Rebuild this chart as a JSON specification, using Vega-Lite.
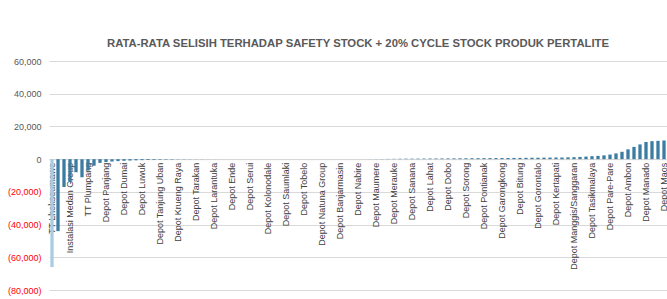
{
  "$schema": "https://vega.github.io/schema/vega-lite/v6.json",
  "autosize": {"type": "none"},
  "padding": {"left": 49, "top": 61, "right": 0, "bottom": 9},
  "width": 618,
  "height": 229,
  "title": {
    "text": "RATA-RATA SELISIH TERHADAP SAFETY STOCK + 20% CYCLE STOCK PRODUK PERTALITE",
    "font": "Liberation Sans",
    "fontSize": 11.3,
    "fontWeight": "bold",
    "color": "#595959",
    "anchor": "middle",
    "baseline": "alphabetic",
    "offset": -1
  },
  "config": {"view": {"stroke": null}},
  "data": {
    "values": [
      {"depot": "TT Lhokseumawe", "selisih": -66000},
      {"depot": "Depot Kupang", "selisih": -44000},
      {"depot": "Depot Bima", "selisih": -17000},
      {"depot": "Instalasi Medan Group", "selisih": -14000},
      {"depot": "Depot Badas", "selisih": -8000},
      {"depot": "Depot Reo", "selisih": -11000},
      {"depot": "TT Plumpang", "selisih": -7000},
      {"depot": "Depot Waingapu", "selisih": -4000},
      {"depot": "Depot Atapupu", "selisih": -2300},
      {"depot": "Depot Panjang", "selisih": -1800},
      {"depot": "Depot Kalabahi", "selisih": -1500},
      {"depot": "Depot Sampit", "selisih": -1200},
      {"depot": "Depot Dumai", "selisih": -1000},
      {"depot": "Depot Pulang Pisau", "selisih": -850},
      {"depot": "Depot Kotabaru", "selisih": -700},
      {"depot": "Depot Luwuk", "selisih": -600},
      {"depot": "Depot Balikpapan", "selisih": -500},
      {"depot": "Depot Samarinda", "selisih": -420},
      {"depot": "Depot Tanjung Uban", "selisih": -350},
      {"depot": "Depot Tanjung Selor", "selisih": -300},
      {"depot": "Depot Sanggau", "selisih": -250},
      {"depot": "Depot Krueng Raya", "selisih": -200},
      {"depot": "Depot Putussibau", "selisih": -150},
      {"depot": "Depot Siantar", "selisih": -100},
      {"depot": "Depot Tarakan", "selisih": -80},
      {"depot": "Depot Sibolga", "selisih": -60},
      {"depot": "Depot Kisaran", "selisih": -40},
      {"depot": "Depot Larantuka", "selisih": -30},
      {"depot": "Depot Meulaboh", "selisih": -20},
      {"depot": "Depot Sabang", "selisih": -10},
      {"depot": "Depot Ende", "selisih": -8},
      {"depot": "Depot Jambi", "selisih": -5},
      {"depot": "Depot Bengkulu", "selisih": -3},
      {"depot": "Depot Serui", "selisih": 0},
      {"depot": "Depot Lubuk Linggau", "selisih": 0},
      {"depot": "Depot Baturaja", "selisih": 0},
      {"depot": "Depot Kolonodale", "selisih": 0},
      {"depot": "Depot Pangkal Balam", "selisih": 0},
      {"depot": "Depot Tanjung Pandan", "selisih": 0},
      {"depot": "Depot Saumlaki", "selisih": 0},
      {"depot": "Depot Tembilahan", "selisih": 0},
      {"depot": "Depot Siak", "selisih": 0},
      {"depot": "Depot Tobelo", "selisih": 0},
      {"depot": "Depot Teluk Kabung", "selisih": 0},
      {"depot": "Depot Padang", "selisih": 0},
      {"depot": "Depot Natuna Group", "selisih": 0},
      {"depot": "Depot Rewulu", "selisih": 0},
      {"depot": "Depot Boyolali", "selisih": 0},
      {"depot": "Depot Banjarmasin", "selisih": 3},
      {"depot": "Depot Cilacap", "selisih": 5},
      {"depot": "Depot Lomanis", "selisih": 8},
      {"depot": "Depot Nabire", "selisih": 10},
      {"depot": "Depot Ujung Berung", "selisih": 20},
      {"depot": "Depot Padalarang", "selisih": 40},
      {"depot": "Depot Maumere", "selisih": 70},
      {"depot": "Depot Cikampek", "selisih": 100},
      {"depot": "Depot Balongan", "selisih": 150},
      {"depot": "Depot Merauke", "selisih": 200},
      {"depot": "Depot Tegal", "selisih": 250},
      {"depot": "Depot Semarang Group", "selisih": 280},
      {"depot": "Depot Sanana", "selisih": 300},
      {"depot": "Depot Tuban", "selisih": 320},
      {"depot": "Depot Surabaya Group", "selisih": 350},
      {"depot": "Depot Lahat", "selisih": 380},
      {"depot": "Depot Malang", "selisih": 400},
      {"depot": "Depot Madiun", "selisih": 420},
      {"depot": "Depot Dobo", "selisih": 450},
      {"depot": "Depot Banyuwangi", "selisih": 470},
      {"depot": "Depot Camplong", "selisih": 500},
      {"depot": "Depot Sorong", "selisih": 520},
      {"depot": "Depot Ampenan", "selisih": 550},
      {"depot": "Depot Makassar", "selisih": 570},
      {"depot": "Depot Pontianak", "selisih": 600},
      {"depot": "Depot Palopo", "selisih": 620},
      {"depot": "Depot Kendari", "selisih": 650},
      {"depot": "Depot Garongkong", "selisih": 680},
      {"depot": "Depot Raha", "selisih": 700},
      {"depot": "Depot Bau-Bau", "selisih": 730},
      {"depot": "Depot Bitung", "selisih": 760},
      {"depot": "Depot Kolaka", "selisih": 800},
      {"depot": "Depot Poso", "selisih": 830},
      {"depot": "Depot Gorontalo", "selisih": 870},
      {"depot": "Depot Tolitoli", "selisih": 900},
      {"depot": "Depot Donggala", "selisih": 950},
      {"depot": "Depot Kertapati", "selisih": 1000},
      {"depot": "Depot Moutong", "selisih": 1050},
      {"depot": "Depot Ternate", "selisih": 1100},
      {"depot": "Depot Manggis/Sanggaran", "selisih": 1200},
      {"depot": "Depot Labuha", "selisih": 1350},
      {"depot": "Depot Tual", "selisih": 1550},
      {"depot": "Depot Tasikmalaya", "selisih": 1800},
      {"depot": "Depot Masohi", "selisih": 2000},
      {"depot": "Depot Namlea", "selisih": 2300},
      {"depot": "Depot Pare-Pare", "selisih": 2800},
      {"depot": "Depot Fakfak", "selisih": 3500},
      {"depot": "Depot Kaimana", "selisih": 4500},
      {"depot": "Depot Ambon", "selisih": 6000},
      {"depot": "Depot Manokwari", "selisih": 7500},
      {"depot": "Depot Biak", "selisih": 9000},
      {"depot": "Depot Manado", "selisih": 10500},
      {"depot": "Depot Jayapura", "selisih": 11000},
      {"depot": "Depot Timika", "selisih": 11200},
      {"depot": "Depot Maos", "selisih": 11400}
    ]
  },
  "mark": {"type": "bar"},
  "encoding": {
    "x": {
      "field": "depot",
      "type": "nominal",
      "sort": null,
      "scale": {"paddingInner": 0.45, "paddingOuter": 0.225},
      "axis": {
        "title": null,
        "values": ["TT Lhokseumawe", "Instalasi Medan Group", "TT Plumpang", "Depot Panjang", "Depot Dumai", "Depot Luwuk", "Depot Tanjung Uban", "Depot Krueng Raya", "Depot Tarakan", "Depot Larantuka", "Depot Ende", "Depot Serui", "Depot Kolonodale", "Depot Saumlaki", "Depot Tobelo", "Depot Natuna Group", "Depot Banjarmasin", "Depot Nabire", "Depot Maumere", "Depot Merauke", "Depot Sanana", "Depot Lahat", "Depot Dobo", "Depot Sorong", "Depot Pontianak", "Depot Garongkong", "Depot Bitung", "Depot Gorontalo", "Depot Kertapati", "Depot Manggis/Sanggaran", "Depot Tasikmalaya", "Depot Pare-Pare", "Depot Ambon", "Depot Manado", "Depot Maos"],
        "labelAngle": -90,
        "labelFont": "Liberation Sans",
        "labelFontSize": 9,
        "labelColor": "#404040",
        "labelPadding": 3,
        "labelLimit": 200,
        "labelOverlap": false,
        "ticks": false,
        "domain": true,
        "domainColor": "#d9d9d9",
        "domainWidth": 1,
        "offset": -130.86
      }
    },
    "y": {
      "field": "selisih",
      "type": "quantitative",
      "scale": {"domain": [-80000, 60000], "nice": false, "zero": false},
      "axis": {
        "title": null,
        "values": [-80000, -60000, -40000, -20000, 0, 20000, 40000, 60000],
        "labelExpr": "datum.value < 0 ? '(' + format(-datum.value, ',') + ')' : format(datum.value, ',')",
        "labelColor": {"condition": {"test": "datum.value < 0", "value": "#ff0000"}, "value": "#595959"},
        "labelFont": "Liberation Sans",
        "labelFontSize": 9,
        "labelPadding": 8,
        "ticks": false,
        "domain": false,
        "grid": true,
        "gridColor": "#d9d9d9",
        "gridWidth": 1
      }
    },
    "color": {
      "condition": {"test": "datum.depot === 'TT Lhokseumawe'", "value": "#a9cce2"},
      "value": "#3c7ca3"
    }
  }
}
